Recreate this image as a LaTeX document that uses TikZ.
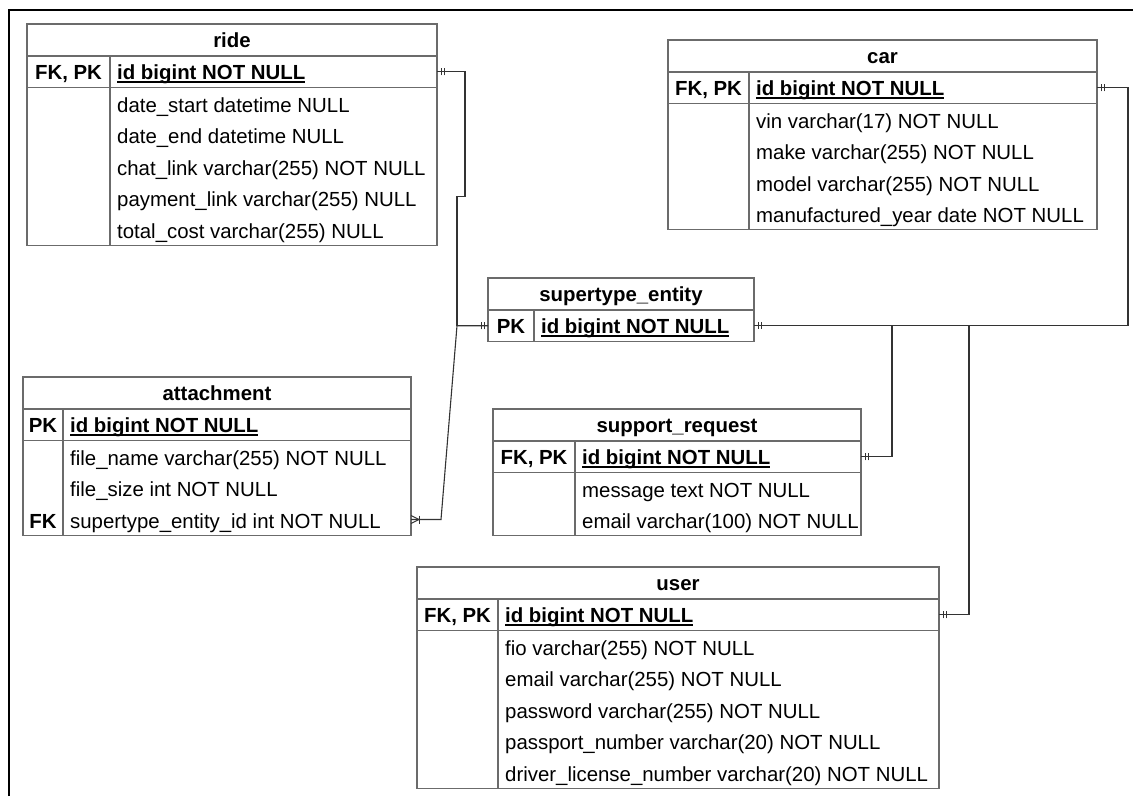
\documentclass[tikz,border=0pt]{standalone}
\usepackage{fontspec}
\setmainfont{Liberation Sans}
\usetikzlibrary{calc,decorations.markings}
\newcommand{\erfont}{\fontsize{20.4pt}{24pt}\selectfont}
\newcommand{\keyline}[1]{\setbox0\hbox{#1}\rlap{\rule[-3pt]{\wd0}{1.5pt}}\box0}
\definecolor{tabline}{gray}{0.42}
\definecolor{linkline}{gray}{0.2}
\tikzset{
  tab/.style={draw=tabline, line width=1.1pt, inner sep=0pt, outer sep=0pt, anchor=north west},
  tabtitle/.style={tab, minimum height=32pt, text height=14.7pt, text depth=0pt, font=\erfont\bfseries},
  tabid/.style={tab, minimum height=31.5pt},
  tabbody/.style={tab},
  divider/.style={draw=tabline, line width=1.1pt},
  keytext/.style={anchor=base, inner sep=0pt, font=\erfont\bfseries},
  idtext/.style={anchor=base west, inner sep=0pt, font=\erfont\bfseries},
  coltext/.style={anchor=base west, inner sep=0pt, font=\erfont},
  tick/.style={draw=linkline, line width=1pt},
  link/.style={draw=linkline, line width=1.1pt},
  onestart/.style={postaction={decorate, decoration={markings,
      mark=at position 4pt with {\draw[tick] (0,-3.5pt) -- (0,3.5pt);},
      mark=at position 7pt with {\draw[tick] (0,-3.5pt) -- (0,3.5pt);}}}},
  oneend/.style={postaction={decorate, decoration={markings,
      mark=at position -4pt with {\draw[tick] (0,-3.5pt) -- (0,3.5pt);},
      mark=at position -7pt with {\draw[tick] (0,-3.5pt) -- (0,3.5pt);}}}},
  manyend/.style={postaction={decorate, decoration={markings,
      mark=at position -1pt with {\draw[tick] (1pt,-4pt) -- (-7pt,0) -- (1pt,4pt);
                                  \draw[tick] (-7pt,-4pt) -- (-7pt,4pt);}}}}
}
\begin{document}
\begin{tikzpicture}[x=1pt, y=-1pt]
    \useasboundingbox (0,0) rectangle (1133,796);
    \draw[line width=2pt] (9,796) |- (1133,10);

    % ride
    \node[tabtitle, minimum width=410pt] (ride) at (27,24) {ride};
    \node[tabid, minimum width=410pt] (ride-id) at (ride.south west) {};
    \node[tabbody, minimum width=410pt, minimum height=158pt] (ride-body) at (ride-id.south west) {};
    \draw[divider] ([xshift=83pt]ride-id.north west) -- ([xshift=83pt]ride-body.south west);
    \node[keytext] at ([xshift=41.5pt, yshift=-23.5pt]ride-id.north west) {FK, PK};
    \node[idtext] at ([xshift=90pt, yshift=-23.5pt]ride-id.north west) {\keyline{id bigint NOT NULL}};
    \foreach \attr [count=\i] in {date\_start datetime NULL, date\_end datetime NULL,
        chat\_link varchar(255) NOT NULL, payment\_link varchar(255) NULL, total\_cost varchar(255) NULL}
        \node[coltext] at ([xshift=90pt, yshift={-24.5pt-(\i-1)*31.6pt}]ride-body.north west) {\attr};

    % car
    \node[tabtitle, minimum width=429pt] (car) at (668,40) {car};
    \node[tabid, minimum width=429pt] (car-id) at (car.south west) {};
    \node[tabbody, minimum width=429pt, minimum height=126.4pt] (car-body) at (car-id.south west) {};
    \draw[divider] ([xshift=81pt]car-id.north west) -- ([xshift=81pt]car-body.south west);
    \node[keytext] at ([xshift=40.5pt, yshift=-23.5pt]car-id.north west) {FK, PK};
    \node[idtext] at ([xshift=88pt, yshift=-23.5pt]car-id.north west) {\keyline{id bigint NOT NULL}};
    \foreach \attr [count=\i] in {vin varchar(17) NOT NULL, make varchar(255) NOT NULL,
        model varchar(255) NOT NULL, manufactured\_year date NOT NULL}
        \node[coltext] at ([xshift=88pt, yshift={-24.5pt-(\i-1)*31.6pt}]car-body.north west) {\attr};

    % supertype_entity
    \node[tabtitle, minimum width=266pt] (se) at (488,278) {supertype\_entity};
    \node[tabid, minimum width=266pt] (se-id) at (se.south west) {};
    \draw[divider] ([xshift=46pt]se-id.north west) -- ([xshift=46pt]se-id.south west);
    \node[keytext] at ([xshift=23pt, yshift=-23.5pt]se-id.north west) {PK};
    \node[idtext] at ([xshift=53pt, yshift=-23.5pt]se-id.north west) {\keyline{id bigint NOT NULL}};

    % attachment
    \node[tabtitle, minimum width=388pt] (at) at (23,377) {attachment};
    \node[tabid, minimum width=388pt] (at-id) at (at.south west) {};
    \node[tabbody, minimum width=388pt, minimum height=94.8pt] (at-body) at (at-id.south west) {};
    \draw[divider] ([xshift=40pt]at-id.north west) -- ([xshift=40pt]at-body.south west);
    \node[keytext] at ([xshift=20pt, yshift=-23.5pt]at-id.north west) {PK};
    \node[idtext] at ([xshift=47pt, yshift=-23.5pt]at-id.north west) {\keyline{id bigint NOT NULL}};
    \foreach \attr [count=\i] in {file\_name varchar(255) NOT NULL, file\_size int NOT NULL,
        supertype\_entity\_id int NOT NULL}
        \node[coltext] at ([xshift=47pt, yshift={-24.5pt-(\i-1)*31.6pt}]at-body.north west) {\attr};
    \node[keytext] at ([xshift=20pt, yshift={-24.5pt-2*31.6pt}]at-body.north west) {FK};
    \coordinate (at-fk) at ([yshift={-2.5*31.6pt}]at-body.north east);

    % support_request
    \node[tabtitle, minimum width=368pt] (sr) at (493,409) {support\_request};
    \node[tabid, minimum width=368pt] (sr-id) at (sr.south west) {};
    \node[tabbody, minimum width=368pt, minimum height=63.2pt] (sr-body) at (sr-id.south west) {};
    \draw[divider] ([xshift=82pt]sr-id.north west) -- ([xshift=82pt]sr-body.south west);
    \node[keytext] at ([xshift=41pt, yshift=-23.5pt]sr-id.north west) {FK, PK};
    \node[idtext] at ([xshift=89pt, yshift=-23.5pt]sr-id.north west) {\keyline{id bigint NOT NULL}};
    \foreach \attr [count=\i] in {message text NOT NULL, email varchar(100) NOT NULL}
        \node[coltext] at ([xshift=89pt, yshift={-24.5pt-(\i-1)*31.6pt}]sr-body.north west) {\attr};

    % user
    \node[tabtitle, minimum width=522pt] (user) at (417,567) {user};
    \node[tabid, minimum width=522pt] (user-id) at (user.south west) {};
    \node[tabbody, minimum width=522pt, minimum height=158pt] (user-body) at (user-id.south west) {};
    \draw[divider] ([xshift=81pt]user-id.north west) -- ([xshift=81pt]user-body.south west);
    \node[keytext] at ([xshift=40.5pt, yshift=-23.5pt]user-id.north west) {FK, PK};
    \node[idtext] at ([xshift=88pt, yshift=-23.5pt]user-id.north west) {\keyline{id bigint NOT NULL}};
    \foreach \attr [count=\i] in {fio varchar(255) NOT NULL, email varchar(255) NOT NULL,
        password varchar(255) NOT NULL, passport\_number varchar(20) NOT NULL,
        driver\_license\_number varchar(20) NOT NULL}
        \node[coltext] at ([xshift=88pt, yshift={-24.5pt-(\i-1)*31.6pt}]user-body.north west) {\attr};

    % relations
    \draw[link, onestart, oneend] (ride-id.east) -- ++(28,0) -- ++(0,125) -- ++(-8,0) |- (se-id.west);
    \draw[link, onestart, manyend] (se-id.west) -- ++(-31,0) -- ([xshift=30pt]at-fk) -- (at-fk);
    \draw[link, onestart, oneend] (car-id.east) -- ++(31,0) |- (se-id.east);
    \draw[link, onestart, oneend] (sr-id.east) -- ++(31,0) |- (se-id.east);
    \draw[link, onestart, oneend] (user-id.east) -- ++(30,0) |- (se-id.east);
\end{tikzpicture}
\end{document}
